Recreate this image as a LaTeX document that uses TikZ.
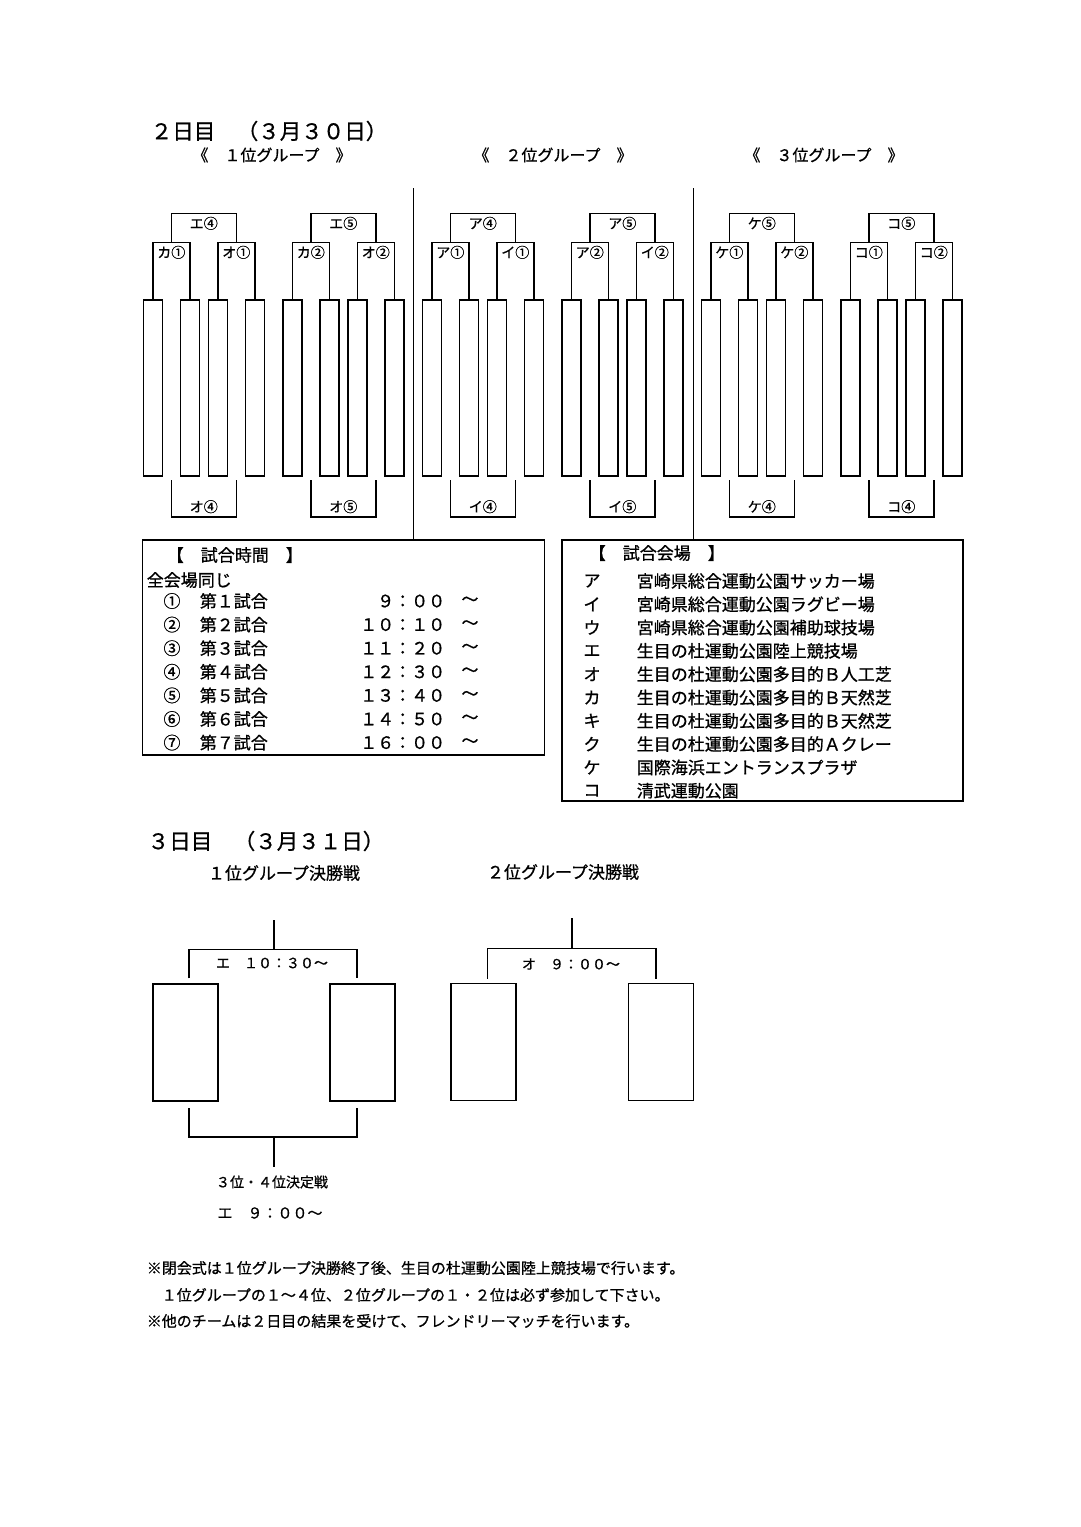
\documentclass[tikz,border=0pt]{standalone}
\usepackage{fontspec}
\setmainfont{Noto Sans CJK JP}[FakeBold=0.8]
\usetikzlibrary{positioning}

\begin{document}
\begin{tikzpicture}[
      x=1pt, y=-1pt,
      line width=1.6pt,
      slot/.style={draw, rectangle, inner sep=0pt, minimum width=19pt, minimum height=176pt},
      final/.style={draw, rectangle, inner sep=0pt, minimum width=65pt, minimum height=117pt},
      panel/.style={draw, rectangle, inner sep=0pt},
      tag/.style={font=\fontsize{14}{16}\selectfont, inner sep=1pt},
      txt/.style={font=\fontsize{17}{19}\selectfont, inner sep=0pt},
      title/.style={font=\fontsize{21.5}{24}\selectfont, inner sep=0pt, anchor=west},
      note/.style={font=\fontsize{15}{17}\selectfont, inner sep=0pt, anchor=west}
    ]
    \fill[white] (0,0) rectangle (1080,1527);

    % day 2
    \node[title] (day2) at (150,131) {２日目　（３月３０日）};
    \node[txt, font=\fontsize{16}{18}\selectfont] (grp1) at (272,155) {《　１位グループ　》};
    \node[txt, font=\fontsize{16}{18}\selectfont] (grp2) at (553,155) {《　２位グループ　》};
    \node[txt, font=\fontsize{16}{18}\selectfont] (grp3) at (824,155) {《　３位グループ　》};

    \foreach \g/\la/\lb/\lc/\ld in {0/カ①/オ①/エ④/オ④, 1/カ②/オ②/エ⑤/オ⑤, 2/ア①/イ①/ア④/イ④,
                                    3/ア②/イ②/ア⑤/イ⑤, 4/ケ①/ケ②/ケ⑤/ケ④, 5/コ①/コ②/コ⑤/コ④} {
      \foreach \i/\o in {1/0, 2/37, 3/65, 4/102}
        \node[slot] (s\g\i) at ({152.8+139.5*\g+\o},388) {};
      \coordinate (ra\g) at ({171.3+139.5*\g},242.5);
      \coordinate (rb\g) at ({236.3+139.5*\g},242.5);
      \coordinate (rc\g) at ({203.8+139.5*\g},213.5);
      \draw (s\g1.north) |- (ra\g) -| (s\g2.north);
      \draw (s\g3.north) |- (rb\g) -| (s\g4.north);
      \draw (ra\g) |- (rc\g) -| (rb\g);
      \node[tag, below=1.5pt] (ta\g) at (ra\g) {\la};
      \node[tag, below=1.5pt] (tb\g) at (rb\g) {\lb};
      \node[tag, below=1.5pt] (tc\g) at (rc\g) {\lc};
      % lower bracket
      \coordinate (la\g) at ({171.3+139.5*\g},480);
      \coordinate (lb\g) at ({236.3+139.5*\g},480);
      \coordinate (lc\g) at ({203.8+139.5*\g},517);
      \draw (la\g) |- (lc\g) -| (lb\g);
      \node[tag, above=2pt] (td\g) at (lc\g) {\ld};
    }

    % schedule and venues
    \node[panel, minimum width=402pt, minimum height=215pt] (times) at (343.5,647.5) {};
    \node[panel, minimum width=401pt, minimum height=261pt] (venues) at (762.5,670.5) {};

    \coordinate (dv1) at (413.3,188);
    \coordinate (dv2) at (693.3,188);
    \draw[line width=1.3pt] (dv1) -- (dv1 |- times.north);
    \draw[line width=1.3pt] (dv2) -- (dv2 |- venues.north);

    \node[txt, anchor=west] (thead) at (166,555) {【　試合時間　】};
    \node[txt, anchor=west] (tall) at (146,580) {全会場同じ};
    \foreach \i/\n/\d/\t in {1/①/１/９：００, 2/②/２/１０：１０, 3/③/３/１１：２０, 4/④/４/１２：３０,
                             5/⑤/５/１３：４０, 6/⑥/６/１４：５０, 7/⑦/７/１６：００} {
      \node[txt] (tn\i) at (172,{577.4+23.6*\i}) {\n};
      \node[txt, anchor=west] (tg\i) at (199,{577.4+23.6*\i}) {第\d 試合};
      \node[txt, anchor=east] (tt\i) at (446,{577.4+23.6*\i}) {\t};
      \node[txt] (tw\i) at (470,{577.4+23.6*\i}) {～};
    }

    \node[txt, anchor=west] (vhead) at (588,553) {【　試合会場　】};
    \foreach \i/\k/\v in {1/ア/宮崎県総合運動公園サッカー場, 2/イ/宮崎県総合運動公園ラグビー場,
                          3/ウ/宮崎県総合運動公園補助球技場, 4/エ/生目の杜運動公園陸上競技場,
                          5/オ/生目の杜運動公園多目的Ｂ人工芝, 6/カ/生目の杜運動公園多目的Ｂ天然芝,
                          7/キ/生目の杜運動公園多目的Ｂ天然芝, 8/ク/生目の杜運動公園多目的Ａクレー,
                          9/ケ/国際海浜エントランスプラザ, 10/コ/清武運動公園} {
      \node[txt] (vk\i) at (592,{557.7+23.3*\i}) {\k};
      \node[txt, anchor=west] (vn\i) at (636,{557.7+23.3*\i}) {\v};
    }

    % day 3
    \node[title] (day3) at (147,841) {３日目　（３月３１日）};
    \node[txt] (fin1) at (284,873) {１位グループ決勝戦};
    \node[txt] (fin2) at (563,872) {２位グループ決勝戦};

    \node[final] (fa) at (185.2,1042.7) {};
    \node[final] (fb) at (362.2,1042.7) {};
    \node[final] (fc) at (483.4,1042) {};
    \node[final] (fd) at (660.8,1042) {};

    \coordinate (fa0) at (274,920);
    \coordinate (fam) at (274,949.3);
    \draw (fam) -- (fa0);
    \draw ([xshift=4pt,yshift=5pt]fa.north) |- (fam) -| ([xshift=-5pt,yshift=5pt]fb.north);
    \node[tag] (fal) at (272,963) {エ　１０：３０～};

    \coordinate (fbm) at (274,1136.7);
    \coordinate (fb0) at (274,1166.7);
    \draw ([xshift=4pt,yshift=-6pt]fa.south) |- (fbm) -| ([xshift=-5pt,yshift=-6pt]fb.south);
    \draw (fbm) -- (fb0);
    \node[tag] (third) at (272,1182) {３位・４位決定戦};
    \node[tag, font=\fontsize{15}{17}\selectfont] (thirdt) at (270,1213) {エ　９：００～};

    \coordinate (fc0) at (572,918);
    \coordinate (fcm) at (572,948.3);
    \draw (fcm) -- (fc0);
    \draw ([xshift=4pt,yshift=4pt]fc.north) |- (fcm) -| ([xshift=-5pt,yshift=4pt]fd.north);
    \node[tag] (fcl) at (571,964) {オ　９：００～};

    % notes
    \node[note] (n1) at (146,1268) {※閉会式は１位グループ決勝終了後、生目の杜運動公園陸上競技場で行います。};
    \node[note] (n2) at (146,1295) {　１位グループの１～４位、２位グループの１・２位は必ず参加して下さい。};
    \node[note] (n3) at (146,1321) {※他のチームは２日目の結果を受けて、フレンドリーマッチを行います。};
\end{tikzpicture}
\end{document}
